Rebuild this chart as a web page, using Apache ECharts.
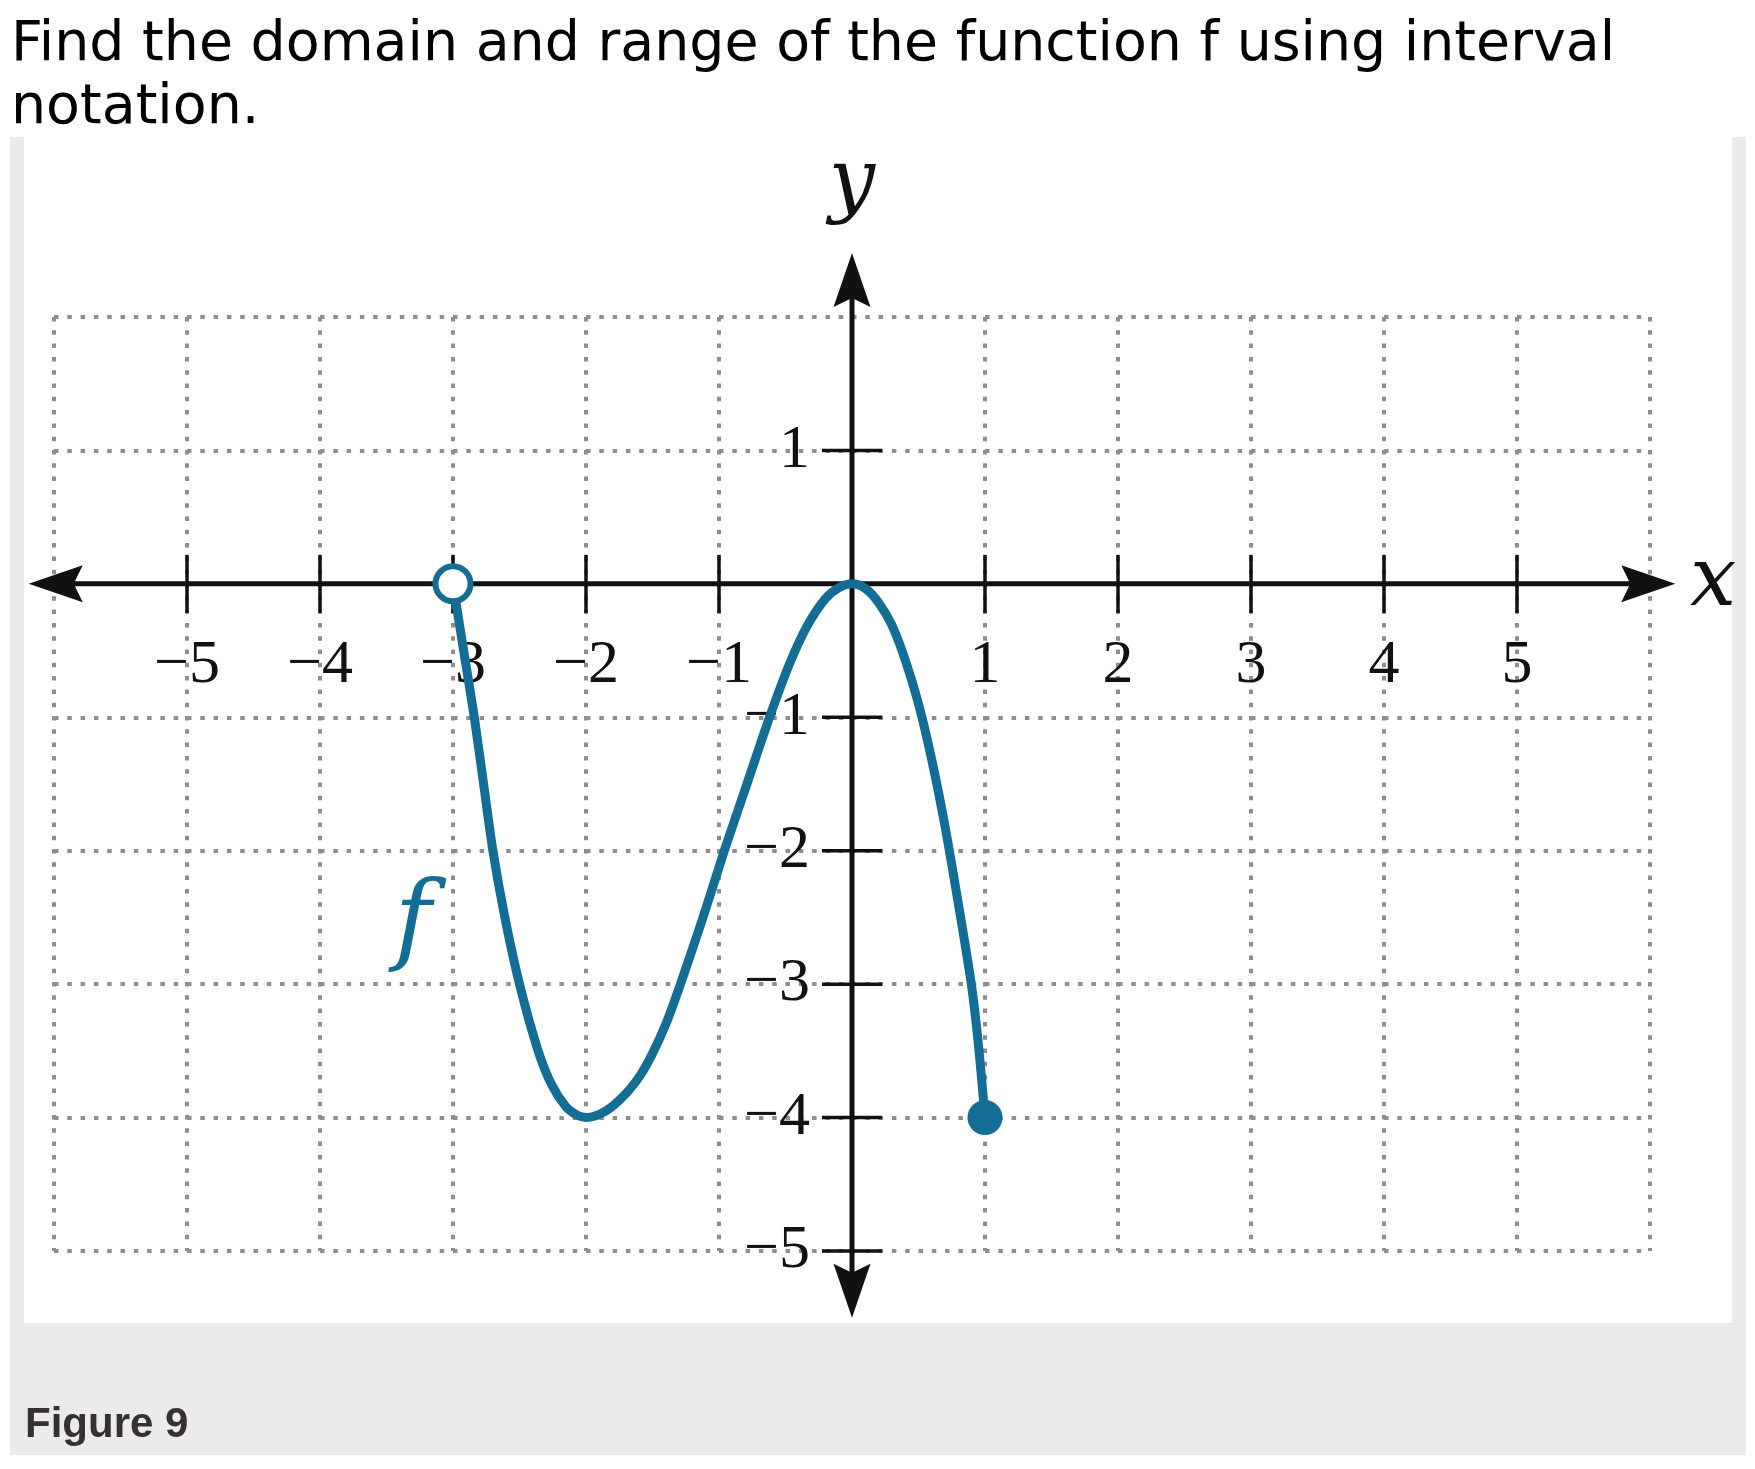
<!DOCTYPE html>
<html>
<head>
<meta charset="utf-8">
<script src="https://cdn.jsdelivr.net/npm/echarts@6/dist/echarts.min.js"></script>
<style>
html,body{margin:0;padding:0;background:#fff;}
#c{width:1755px;height:1469px;}
</style>
</head>
<body>
<div id="c"></div>
<script>
// ---------- data ----------
const titleText = 'Find the domain and range of the function f using interval\nnotation.';
const captionText = 'Figure 9';
const xRange = [-6, 6];
const yRange = [-5, 2];
const xTickValues = [-5, -4, -3, -2, -1, 1, 2, 3, 4, 5];
const yTickValues = [1, -1, -2, -3, -4, -5];
const xLabelValues = [-5, -4, -3, -2, -1, 1, 2, 3, 4, 5];
const yLabelValues = [1, -1, -2, -3, -4, -5];
const xAxisEnds = [-6.19, 6.19];
const yAxisEnds = [-5.5, 2.48];
const curveX = [-3, -2.96, -2.92, -2.84, -2.77, -2.70, -2.61, -2.50, -2.36, -2.26, -2.15, -2.07, -2.0,
  -1.85, -1.70, -1.59, -1.50, -1.40, -1.29, -1.12, -0.96, -0.79, -0.62, -0.47, -0.34, -0.20, -0.10, 0,
  0.10, 0.20, 0.30, 0.40, 0.50, 0.60, 0.70, 0.80, 0.90, 0.95, 1.0];
const curveY = [0, -0.25, -0.5, -1.0, -1.5, -2.0, -2.5, -3.0, -3.5, -3.75, -3.92, -3.98, -4.0,
  -3.95, -3.82, -3.68, -3.52, -3.30, -3.0, -2.5, -2.0, -1.5, -1.0, -0.6, -0.32, -0.11, -0.03, 0,
  -0.035, -0.14, -0.31, -0.57, -0.90, -1.32, -1.82, -2.40, -3.02, -3.45, -4.0];
const openPoint = [-3, 0];
const closedPoint = [1, -4];
const fLabelPos = [-3.30, -2.59];

// ---------- styles ----------
const TEAL = '#136d94';
const AXIS = '#111111';
const GRIDC = '#8e8e8e';
const SERIF = '"Liberation Serif", "DejaVu Serif", serif';
const ITALIC = '"DejaVu Serif", "Liberation Serif", serif';

function fmt(v) { return v < 0 ? '\u2212' + Math.abs(v) : String(v); }

function renderAxisArrow(params, api) {
  const p1 = api.coord([api.value(0), api.value(1)]);
  const p2 = api.coord([api.value(2), api.value(3)]);
  const dx = p2[0] - p1[0], dy = p2[1] - p1[1];
  const len = Math.hypot(dx, dy);
  const ux = dx / len, uy = dy / len;
  const nx = -uy, ny = ux;
  const L = 54, W = 18.5, N = 45;
  function arrow(tip, d) {
    const bx = tip[0] - d[0] * L, by = tip[1] - d[1] * L;
    const mx = tip[0] - d[0] * N, my = tip[1] - d[1] * N;
    return {
      type: 'polygon',
      shape: { points: [[tip[0], tip[1]], [bx + nx * W, by + ny * W], [mx, my], [bx - nx * W, by - ny * W]] },
      style: { fill: AXIS }
    };
  }
  return {
    type: 'group',
    children: [
      { type: 'line', shape: { x1: p1[0] + ux * 40, y1: p1[1] + uy * 40, x2: p2[0] - ux * 40, y2: p2[1] - uy * 40 },
        style: { stroke: AXIS, lineWidth: 5 } },
      arrow(p1, [-ux, -uy]),
      arrow(p2, [ux, uy])
    ]
  };
}

function renderXTick(params, api) {
  const p = api.coord([api.value(0), api.value(1)]);
  return { type: 'line', shape: { x1: p[0], y1: p[1] - 29, x2: p[0], y2: p[1] + 29 },
    style: { stroke: AXIS, lineWidth: 3.5 } };
}
function renderYTick(params, api) {
  const p = api.coord([api.value(0), api.value(1)]);
  return { type: 'line', shape: { x1: p[0] - 30, y1: p[1], x2: p[0] + 30, y2: p[1] },
    style: { stroke: AXIS, lineWidth: 3.5 } };
}

const chart = echarts.init(document.getElementById('c'), null, { renderer: 'canvas' });

const splitStyle = { show: true, lineStyle: { color: GRIDC, width: 4, type: [4.5, 8.8] } };

const option = {
  animation: false,
  backgroundColor: '#ffffff',
  title: {
    text: titleText,
    left: 11,
    top: 14,
    padding: 0,
    textStyle: { fontFamily: '"DejaVu Sans"', fontSize: 55.4, fontWeight: 'normal', color: '#000', lineHeight: 63 }
  },
  graphic: [
    { type: 'rect', z: -20, silent: true, shape: { x: 10, y: 137, width: 1736, height: 1318 }, style: { fill: '#ebebeb' } },
    { type: 'rect', z: -19, silent: true, shape: { x: 24, y: 137, width: 1708, height: 1186 }, style: { fill: '#ffffff' } },
    { type: 'text', z: 10, silent: true, left: 25, top: 1404,
      style: { text: captionText, fontFamily: '"Liberation Sans", Arial, sans-serif', fontWeight: 'bold', fontSize: 42, fill: '#363033' } }
  ],
  grid: { left: 54, right: 105, top: 317, bottom: 218, containLabel: false, outerBoundsMode: 'none' },
  xAxis: {
    type: 'value', min: xRange[0], max: xRange[1], interval: 1,
    position: 'bottom', offset: 0,
    name: 'x', nameLocation: 'end', nameGap: 40,
    nameTextStyle: { fontFamily: ITALIC, fontStyle: 'italic', fontSize: 82, lineHeight: 82, color: '#111', padding: [0, 0, 6, 0] },
    axisLine: { show: true, onZero: false, lineStyle: { opacity: 0 } },
    axisTick: { show: false },
    axisLabel: {
      show: true, margin: 82, verticalAlign: 'middle',
      fontFamily: SERIF, fontSize: 62, color: '#111',
      formatter: v => xLabelValues.includes(v) ? fmt(v) : ''
    },
    splitLine: splitStyle
  },
  yAxis: {
    type: 'value', min: yRange[0], max: yRange[1], interval: 1,
    position: 'left', offset: 0,
    name: 'y', nameLocation: 'end', nameGap: 90,
    nameTextStyle: { fontFamily: ITALIC, fontStyle: 'italic', fontSize: 82, lineHeight: 82, color: '#111', align: 'center' },
    axisLine: { show: true, onZero: false, lineStyle: { opacity: 0 } },
    axisTick: { show: false },
    axisLabel: {
      show: true, margin: 42,
      fontFamily: SERIF, fontSize: 62, color: '#111',
      formatter: v => yLabelValues.includes(v) ? fmt(v) : ''
    },
    splitLine: splitStyle
  },
  series: [
    {
      type: 'custom', name: 'axes', z: 3, silent: true,
      renderItem: renderAxisArrow,
      data: [[xAxisEnds[0], 0, xAxisEnds[1], 0], [0, yAxisEnds[0], 0, yAxisEnds[1]]]
    },
    {
      type: 'custom', name: 'xticks', z: 3, silent: true,
      renderItem: renderXTick,
      data: xTickValues.map(v => [v, 0])
    },
    {
      type: 'custom', name: 'yticks', z: 3, silent: true,
      renderItem: renderYTick,
      data: yTickValues.map(v => [0, v])
    },
    {
      type: 'line', name: 'f', z: 5, silent: true,
      data: curveX.map((x, i) => [x, curveY[i]]),
      smooth: 0.3, showSymbol: false, symbol: 'none',
      lineStyle: { color: TEAL, width: 9, cap: 'round', join: 'round' }
    },
    {
      type: 'scatter', name: 'open', z: 6, silent: true,
      data: [openPoint], symbolSize: 35,
      itemStyle: { color: '#ffffff', borderColor: TEAL, borderWidth: 6, opacity: 1 }
    },
    {
      type: 'scatter', name: 'closed', z: 6, silent: true,
      data: [closedPoint], symbolSize: 35,
      itemStyle: { color: TEAL, opacity: 1 }
    },
    {
      type: 'scatter', name: 'flabel', z: 6, silent: true, clip: false,
      data: [fLabelPos], symbolSize: 2,
      itemStyle: { color: 'rgba(0,0,0,0)', opacity: 1 },
      label: { show: true, position: 'inside', formatter: 'f', fontFamily: ITALIC, fontStyle: 'italic',
        fontSize: 100, color: TEAL, opacity: 1, offset: [0, -4] }
    }
  ]
};
chart.setOption(option);

// place the axes through the origin (x = 0, y = 0) using the library's own scale
const origin = chart.convertToPixel({ gridIndex: 0 }, [0, 0]);
const gridRect = chart.getModel().getComponent('grid', 0).coordinateSystem.getRect();
chart.setOption({
  xAxis: { offset: origin[1] - (gridRect.y + gridRect.height) },
  yAxis: { offset: gridRect.x - origin[0] }
});
</script>
</body>
</html>
